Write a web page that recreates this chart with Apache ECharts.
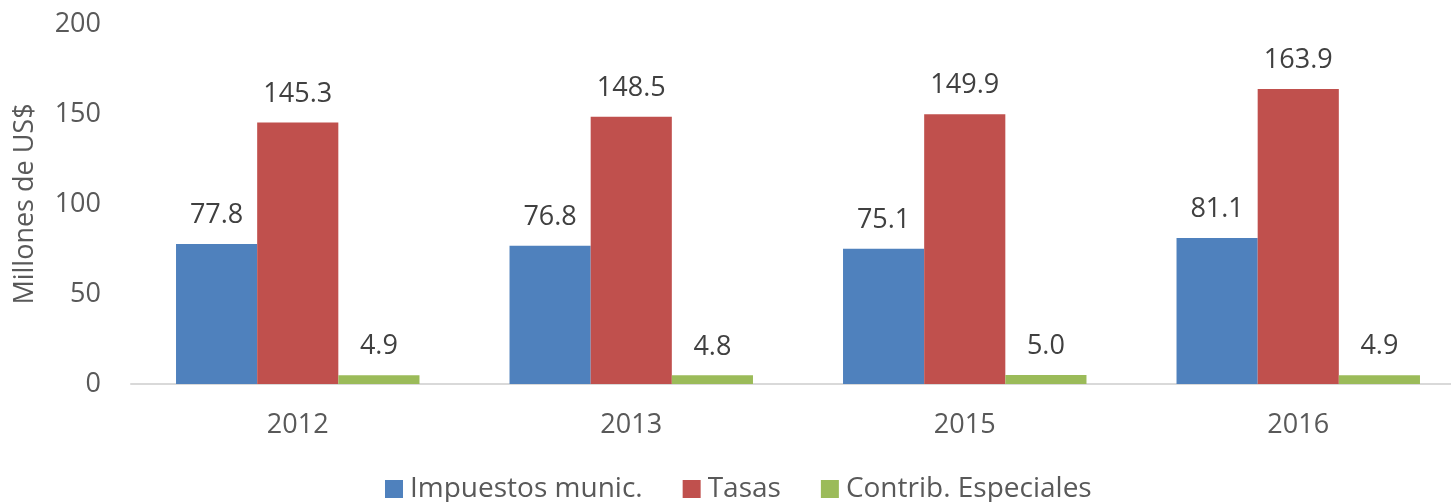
<!DOCTYPE html>
<html>
<head>
<meta charset="utf-8">
<script src="https://cdn.jsdelivr.net/npm/echarts@6/dist/echarts.min.js"></script>
<style>
  html, body { margin: 0; padding: 0; background: #fff; }
  #chart { width: 1451px; height: 502px; }
</style>
</head>
<body>
<div id="chart"></div>
<script>
var years = ['2012', '2013', '2015', '2016'];
var impuestos = [77.8, 76.8, 75.1, 81.1];
var tasas = [145.3, 148.5, 149.9, 163.9];
var contrib = [4.9, 4.8, 5.0, 4.9];
var seriesNames = ['Impuestos munic.', 'Tasas', 'Contrib. Especiales'];
var colors = ['#4F81BD', '#C0504D', '#9BBB59'];

var font = '"Open Sans", sans-serif';
var myChart = echarts.init(document.getElementById('chart'));

function makeSeries(name, data, color) {
    return {
        name: name,
        type: 'bar',
        data: data,
        barGap: '0%',
        barCategoryGap: '27%',
        itemStyle: { color: color },
        label: {
            show: true,
            position: 'top',
            distance: 15,
            fontFamily: font,
            fontSize: 27,
            color: '#404040',
            formatter: function (p) { return p.value.toFixed(1); }
        }
    };
}

myChart.setOption({
    color: colors,
    // plot area runs past the right edge like in the original
    grid: { left: 131, width: 1334, top: 24, bottom: 118, outerBoundsMode: 'none', containLabel: false },
    legend: {
        bottom: -6,
        left: 380,
        itemWidth: 18,
        itemHeight: 18,
        itemGap: 40,
        icon: 'rect',
        textStyle: { fontFamily: font, fontSize: 28, color: '#595959', padding: [0, 0, 0, 2] },
        data: seriesNames
    },
    xAxis: {
        type: 'category',
        data: years,
        axisLine: { lineStyle: { color: '#D9D9D9', width: 2 } },
        axisTick: { show: false },
        axisLabel: { fontFamily: font, fontSize: 27, color: '#595959', margin: 28 }
    },
    yAxis: {
        type: 'value',
        min: 0,
        max: 200,
        interval: 50,
        name: 'Millones de US$',
        nameLocation: 'middle',
        nameGap: 92,
        nameTextStyle: { fontFamily: font, fontSize: 27, color: '#595959' },
        axisLine: { show: false },
        axisTick: { show: false },
        splitLine: { show: false },
        axisLabel: { fontFamily: font, fontSize: 27, color: '#595959', margin: 30 }
    },
    series: [
        makeSeries(seriesNames[0], impuestos, colors[0]),
        makeSeries(seriesNames[1], tasas, colors[1]),
        makeSeries(seriesNames[2], contrib, colors[2])
    ]
});
</script>
</body>
</html>
